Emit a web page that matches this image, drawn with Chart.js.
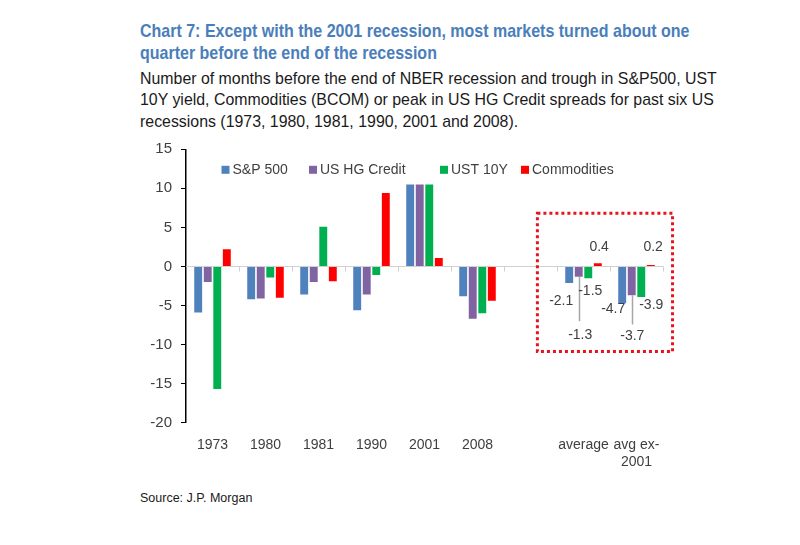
<!DOCTYPE html>
<html>
<head>
<meta charset="utf-8">
<script src="https://cdn.jsdelivr.net/npm/chart.js@4/dist/chart.umd.min.js"></script>
<style>
  body { margin: 0; background: #fff; width: 800px; height: 545px; position: relative; overflow: hidden; font-family: "Liberation Sans", Arial, sans-serif; }
  #title { position: absolute; left: 140px; top: 20px; white-space: nowrap; color: #4a7ebb; font-weight: bold; font-size: 19px; line-height: 21.5px; transform: scaleX(0.842); transform-origin: 0 0; }
  #sub { position: absolute; left: 140px; top: 67.5px; white-space: nowrap; color: #1a1a1a; font-size: 15.9px; line-height: 21.5px; }
  #source { position: absolute; left: 140px; top: 490.5px; font-size: 12.5px; color: #1a1a1a; }
  #wrap { position: absolute; left: 120px; top: 140px; width: 570px; height: 340px; }
</style>
</head>
<body>
<div id="title">Chart 7: Except with the 2001 recession, most markets turned about one<br>quarter before the end of the recession</div>
<div id="sub">Number of months before the end of NBER recession and trough in S&amp;P500, UST<br>10Y yield, Commodities (BCOM) or peak in US HG Credit spreads for past six US<br>recessions (1973, 1980, 1981, 1990, 2001 and 2008).</div>
<div id="wrap"><canvas id="chart"></canvas></div>
<div id="source">Source: J.P. Morgan</div>
<script>
// categories and series (months)
const categories = ["1973", "1980", "1981", "1990", "2001", "2008", "", "average", ["avg ex-", "2001"]];
const spx = [-5.9, -4.2, -3.6, -5.6, 10.5, -3.8, null, -2.1, -4.7];
const hgCredit = [-2.0, -4.1, -2.0, -3.6, 10.5, -6.7, null, -1.3, -3.7];
const ust10y = [-15.7, -1.4, 5.1, -1.1, 10.5, -6.0, null, -1.5, -3.9];
const commodities = [2.2, -4.0, -1.9, 9.4, 1.1, -4.4, null, 0.4, 0.2];
const yTicks = [15, 10, 5, 0, -5, -10, -15, -20];

const seriesNames = ["S&P 500", "US HG Credit", "UST 10Y", "Commodities"];
const seriesColors = ["#4f81bd", "#8064a2", "#00b050", "#ff0000"];

const fontFam = '"Liberation Sans", Arial, sans-serif';

// zero line + category tick marks along it
const zeroLine = {
    id: 'zeroLine',
    beforeDatasetsDraw(chart) {
        const ctx = chart.ctx, a = chart.chartArea;
        const y0 = chart.scales.y.getPixelForValue(0);
        const catW = (a.right - a.left) / categories.length;
        ctx.save();
        ctx.strokeStyle = '#d0d0d0';
        ctx.lineWidth = 1;
        ctx.beginPath();
        ctx.moveTo(a.left, y0);
        ctx.lineTo(a.right, y0);
        for (let i = 1; i <= categories.length; i++) {
            const x = Math.round(a.left + i * catW) + 0.5;
            ctx.moveTo(x, y0);
            ctx.lineTo(x, y0 + 5);
        }
        ctx.stroke();
        ctx.restore();
    }
};

// legend drawn inside the plot area
const insideLegend = {
    id: 'insideLegend',
    afterDraw(chart) {
        const ctx = chart.ctx, a = chart.chartArea;
        const xs = [35.5, 123, 254, 335];
        const y = a.top + 20.5;
        ctx.save();
        ctx.font = '14px ' + fontFam;
        ctx.textBaseline = 'middle';
        chart.data.datasets.forEach((ds, i) => {
            const x = a.left + xs[i];
            ctx.fillStyle = ds.backgroundColor;
            ctx.fillRect(x, y - 4, 8, 8);
            ctx.fillStyle = '#404040';
            ctx.fillText(ds.label, x + 11, y);
        });
        ctx.restore();
    }
};

// labels for the average columns, with leader lines for HG credit
const avgLabels = {
    id: 'avgLabels',
    afterDatasetsDraw(chart) {
        const ctx = chart.ctx;
        const y0 = chart.scales.y.getPixelForValue(0);
        // [dx, dy from zero line, leader end dy or null] per dataset, per column
        const place = {
            7: [[-8, 35, null], [1.5, 68.7, 54.7], [2, 24.7, null], [1.3, -19.3, null]],
            8: [[-9, 43, null], [0.6, 69.7, 58], [10, 39, null], [2.3, -19.3, null]]
        };
        ctx.save();
        ctx.font = '14px ' + fontFam;
        ctx.textAlign = 'center';
        ctx.textBaseline = 'middle';
        [7, 8].forEach(ci => {
            chart.data.datasets.forEach((ds, di) => {
                const bar = chart.getDatasetMeta(di).data[ci];
                const p = place[ci][di];
                if (p[2] !== null) {
                    ctx.strokeStyle = '#a6a6a6';
                    ctx.lineWidth = 1.5;
                    ctx.beginPath();
                    ctx.moveTo(Math.round(bar.x) + 0.5, bar.y);
                    ctx.lineTo(Math.round(bar.x) + 0.5, y0 + p[2]);
                    ctx.stroke();
                }
                ctx.fillStyle = '#404040';
                ctx.fillText(ds.data[ci].toFixed(1), bar.x + p[0], y0 + p[1]);
            });
        });
        ctx.restore();
    }
};

// dotted red highlight around the average columns
const highlightBox = {
    id: 'highlightBox',
    afterDraw(chart) {
        const ctx = chart.ctx, a = chart.chartArea;
        const ys = chart.scales.y;
        const catW = (a.right - a.left) / categories.length;
        const x1 = a.left + 6.63 * catW, x2 = a.left + 9.18 * catW;
        const y1 = ys.getPixelForValue(6.8), y2 = ys.getPixelForValue(-10.9);
        ctx.save();
        ctx.strokeStyle = '#e8141c';
        ctx.lineWidth = 3;
        ctx.setLineDash([3, 3]);
        ctx.strokeRect(x1, y1, x2 - x1, y2 - y1);
        ctx.restore();
    }
};

const ctx = document.getElementById("chart").getContext("2d");
const seriesData = [spx, hgCredit, ust10y, commodities];
const chart = new Chart(ctx, {
    type: "bar",
    data: {
        labels: categories,
        datasets: seriesData.map((d, i) => ({
            label: seriesNames[i],
            data: d,
            backgroundColor: seriesColors[i],
            borderWidth: 0,
            categoryPercentage: 0.72,
            barPercentage: 0.83
        }))
    },
    options: {
        responsive: true,
        maintainAspectRatio: false,
        animation: false,
        layout: { padding: { top: 9.3, right: 27, left: 0, bottom: 0 } },
        plugins: { legend: { display: false }, tooltip: { enabled: false } },
        scales: {
            x: {
                grid: { display: false },
                border: { display: false },
                ticks: { color: '#404040', font: { size: 14, family: fontFam }, padding: 6, maxRotation: 0, autoSkip: false },
                afterFit(s) { s.height = 57.3; }
            },
            y: {
                min: -20, max: 15,
                afterBuildTicks(s) { s.ticks = yTicks.map(v => ({ value: v })); },
                grid: { drawOnChartArea: false, tickLength: 5, color: '#000', tickWidth: 1 },
                border: { color: '#000', width: 1.5 },
                ticks: { color: '#404040', font: { size: 15, family: fontFam }, padding: 9 },
                afterFit(s) { s.width = 66; s.paddingTop = 0; s.paddingBottom = 0; }
            }
        }
    },
    plugins: [zeroLine, insideLegend, avgLabels, highlightBox]
});
</script>
</body>
</html>
